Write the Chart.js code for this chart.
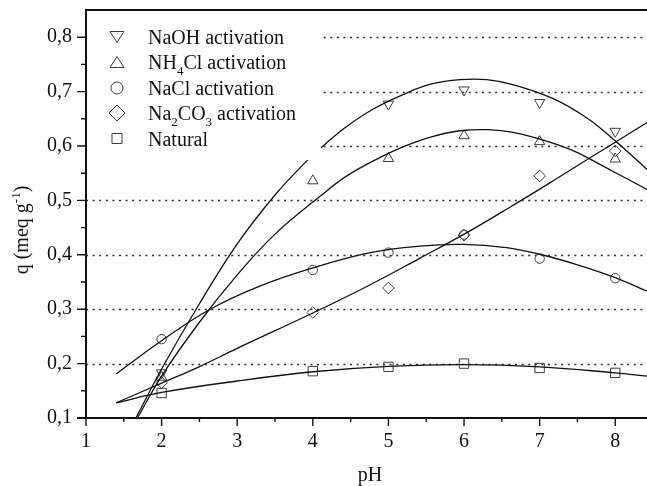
<!DOCTYPE html>
<html>
<head>
<meta charset="utf-8">
<script src="https://cdn.jsdelivr.net/npm/chart.js@4.4.1/dist/chart.umd.min.js"></script>
<style>
  html, body { margin: 0; padding: 0; background: #fff; }
  #wrap { width: 647px; height: 486px; position: relative; }
</style>
</head>
<body>
<div id="wrap"><canvas id="c" width="647" height="486"></canvas></div>
<script>
// ---- data ----
const pH = [2, 4, 5, 6, 7, 8];
const qNaOH   = [0.183, null, 0.677, 0.703, 0.680, 0.627]; // pH 4 point hidden by legend
const qNH4Cl  = [0.175, 0.536, 0.577, 0.619, 0.608, 0.576];
const qNaCl   = [0.245, 0.372, 0.404, 0.437, 0.393, 0.357];
const qNa2CO3 = [0.165, 0.294, 0.339, 0.436, 0.545, 0.591];
const qNatural= [0.146, 0.186, 0.194, 0.200, 0.192, 0.183];

// fitted curves, points
const fitNaOHx = [1.66, 2.0, 2.5, 3.0, 3.5, 3.93, 4.12, 4.43, 4.8, 5.2, 5.57, 5.95, 6.3, 6.67, 7.18, 7.62, 7.98, 8.42];
const fitNaOHy = [0.10, 0.19, 0.31, 0.42, 0.51, 0.574, 0.598, 0.634, 0.668, 0.695, 0.714, 0.722, 0.722, 0.712, 0.687, 0.652, 0.612, 0.557];
const fitNH4Clx = [1.68, 2.0, 2.5, 3.0, 3.5, 4.1, 4.45, 4.89, 5.2, 5.57, 5.95, 6.32, 6.65, 7.09, 7.45, 7.84, 8.42];
const fitNH4Cly = [0.10, 0.177, 0.276, 0.363, 0.438, 0.508, 0.545, 0.579, 0.599, 0.617, 0.628, 0.630, 0.625, 0.609, 0.591, 0.563, 0.520];
const fitNaClx = [1.40, 1.99, 2.63, 3.29, 4.0, 4.76, 5.42, 5.99, 6.56, 7.0, 7.49, 8.0, 8.42];
const fitNaCly = [0.181, 0.241, 0.299, 0.342, 0.376, 0.404, 0.416, 0.419, 0.413, 0.401, 0.382, 0.358, 0.333];
const fitNa2CO3x = [1.40, 2.0, 2.51, 3.0, 4.0, 4.76, 5.42, 5.99, 6.59, 7.18, 7.71, 8.42];
const fitNa2CO3y = [0.128, 0.164, 0.195, 0.228, 0.293, 0.345, 0.394, 0.437, 0.486, 0.536, 0.582, 0.643];
const fitNaturalx = [1.40, 2.0, 3.0, 4.0, 5.0, 6.0, 7.0, 8.0, 8.42];
const fitNaturaly = [0.128, 0.147, 0.168, 0.185, 0.195, 0.198, 0.194, 0.183, 0.177];

const xTicks = [1, 2, 3, 4, 5, 6, 7, 8];
const xMinorTicks = [1.5, 2.5, 3.5, 4.5, 5.5, 6.5, 7.5];
const yTicks = [0.1, 0.2, 0.3, 0.4, 0.5, 0.6, 0.7, 0.8];
const yMinorTicks = [0.15, 0.25, 0.35, 0.45, 0.55, 0.65, 0.75];
const yGrid = [0.2, 0.3, 0.4, 0.5, 0.6, 0.7, 0.8];

// legend entries: [text, 0 normal / 1 subscript]
const legendItems = [
  { marker: 'tridown', parts: [['NaOH activation', 0]] },
  { marker: 'triup',   parts: [['NH', 0], ['4', 1], ['Cl activation', 0]] },
  { marker: 'circle',  parts: [['NaCl activation', 0]] },
  { marker: 'diamond', parts: [['Na', 0], ['2', 1], ['CO', 0], ['3', 1], [' activation', 0]] },
  { marker: 'square',  parts: [['Natural', 0]] }
];
const xTitle = 'pH';
const yTitleParts = [['q (meq g', 0], ['-1', 2], [')', 0]];

// ---- build datasets ----
const SERIF = '"Liberation Serif", "Times New Roman", serif';
const LINE = '#111';
const MARK = '#3c3c3c';
function pts(xs, ys) { return xs.map((x, i) => ({ x: x, y: ys[i] })).filter(p => p.y !== null); }
function fitDs(xs, ys) {
  return { data: pts(xs, ys), showLine: true, borderColor: LINE, borderWidth: 1.3,
           pointRadius: 0, pointHoverRadius: 0, tension: 0.4, fill: false };
}
function markDs(ys, style, rot, r) {
  return { data: pts(pH, ys), showLine: false, pointStyle: style, rotation: rot,
           pointRadius: r, pointHoverRadius: r, borderColor: MARK, borderWidth: 1,
           backgroundColor: 'rgba(0,0,0,0)' };
}
const datasets = [
  fitDs(fitNaOHx, fitNaOHy), fitDs(fitNH4Clx, fitNH4Cly), fitDs(fitNaClx, fitNaCly),
  fitDs(fitNa2CO3x, fitNa2CO3y), fitDs(fitNaturalx, fitNaturaly),
  markDs(qNaOH, 'triangle', 180, 6), markDs(qNH4Cl, 'triangle', 0, 6),
  markDs(qNaCl, 'circle', 0, 4.7), markDs(qNa2CO3, 'rectRot', 0, 5.8),
  markDs(qNatural, 'rect', 0, 6.6)
];

function drawLegendMarker(ctx, kind, cx, cy) {
  ctx.beginPath();
  if (kind === 'tridown') { ctx.moveTo(cx - 7, cy - 5.5); ctx.lineTo(cx + 7, cy - 5.5); ctx.lineTo(cx, cy + 5.5); ctx.closePath(); }
  else if (kind === 'triup') { ctx.moveTo(cx - 7, cy + 5.5); ctx.lineTo(cx + 7, cy + 5.5); ctx.lineTo(cx, cy - 5.5); ctx.closePath(); }
  else if (kind === 'circle') { ctx.arc(cx, cy, 6, 0, Math.PI * 2); }
  else if (kind === 'diamond') { ctx.moveTo(cx - 8, cy); ctx.lineTo(cx, cy - 8); ctx.lineTo(cx + 8, cy); ctx.lineTo(cx, cy + 8); ctx.closePath(); }
  else if (kind === 'square') { ctx.rect(cx - 5, cy - 5, 10, 10); }
  ctx.stroke();
}
function drawParts(ctx, parts, x, y) {
  parts.forEach(p => {
    const kind = p[1];
    ctx.font = (kind ? '13px ' : '20px ') + SERIF;
    const dy = kind === 1 ? 6 : (kind === 2 ? -8 : 0);
    ctx.fillText(p[0], x, y + dy);
    x += ctx.measureText(p[0]).width;
  });
  return x;
}
function partsWidth(ctx, parts) {
  let w = 0;
  parts.forEach(p => { ctx.font = (p[1] ? '13px ' : '20px ') + SERIF; w += ctx.measureText(p[0]).width; });
  return w;
}

const decor = {
  id: 'decor',
  beforeDatasetsDraw(chart) {
    const { ctx, chartArea: a, scales: { y } } = chart;
    ctx.save();
    ctx.strokeStyle = '#2a2a2a';
    ctx.lineWidth = 1.3;
    ctx.setLineDash([2, 4.6]);
    yGrid.forEach(v => {
      const py = Math.round(y.getPixelForValue(v)) + 0.5;
      ctx.beginPath(); ctx.moveTo(a.left, py); ctx.lineTo(a.right, py); ctx.stroke();
    });
    ctx.restore();
  },
  afterDatasetsDraw(chart) {
    const { ctx, chartArea: a, scales: { x, y } } = chart;
    ctx.save();
    // legend panel
    ctx.fillStyle = '#fff';
    ctx.fillRect(a.left + 1, a.top + 1, 321 - a.left - 1, 160 - a.top - 1);
    ctx.strokeStyle = MARK; ctx.lineWidth = 1;
    ctx.fillStyle = '#111'; ctx.textBaseline = 'alphabetic'; ctx.textAlign = 'left';
    const rowsY = [37, 62, 88, 113, 138.5];
    legendItems.forEach((it, i) => {
      drawLegendMarker(ctx, it.marker, 117, rowsY[i]);
      drawParts(ctx, it.parts, 148, rowsY[i] + 7);
    });
    // axes
    ctx.strokeStyle = '#111';
    ctx.lineWidth = 2;
    ctx.beginPath();
    ctx.moveTo(a.left, a.top); ctx.lineTo(a.left, a.bottom);
    ctx.moveTo(a.left - 9, a.bottom); ctx.lineTo(a.right, a.bottom);
    ctx.moveTo(a.left - 1, a.top); ctx.lineTo(a.right, a.top);
    ctx.stroke();
    ctx.lineWidth = 1.4;
    ctx.beginPath();
    yTicks.forEach(v => { const py = y.getPixelForValue(v); ctx.moveTo(a.left - 9, py); ctx.lineTo(a.left, py); });
    yMinorTicks.forEach(v => { const py = y.getPixelForValue(v); ctx.moveTo(a.left - 5, py); ctx.lineTo(a.left, py); });
    xTicks.forEach(v => { const px = x.getPixelForValue(v); ctx.moveTo(px, a.bottom); ctx.lineTo(px, a.bottom + 8); });
    xMinorTicks.forEach(v => { const px = x.getPixelForValue(v); ctx.moveTo(px, a.bottom); ctx.lineTo(px, a.bottom + 4); });
    ctx.stroke();
    // axis titles
    ctx.fillStyle = '#111';
    ctx.font = '20px ' + SERIF;
    ctx.textAlign = 'center';
    ctx.fillText(xTitle, 370, 481);
    ctx.textAlign = 'left';
    ctx.translate(28, 230);
    ctx.rotate(-Math.PI / 2);
    const w = partsWidth(ctx, yTitleParts);
    drawParts(ctx, yTitleParts, -w / 2, 0);
    ctx.restore();
  }
};

new Chart(document.getElementById('c'), {
  type: 'scatter',
  data: { datasets: datasets },
  plugins: [decor],
  options: {
    responsive: false,
    animation: false,
    devicePixelRatio: 1,
    layout: { autoPadding: false, padding: { top: 10, left: 0, right: 0, bottom: 0 } },
    plugins: { legend: { display: false }, tooltip: { enabled: false } },
    scales: {
      x: {
        type: 'linear', min: 1, max: 8.42,
        afterBuildTicks: s => { s.ticks = xTicks.map(v => ({ value: v })); },
        afterFit: s => { s.height = 68; s.paddingLeft = 0; s.paddingRight = 0; },
        grid: { display: false, drawTicks: false },
        border: { display: false },
        ticks: { autoSkip: false, maxRotation: 0, padding: 12, color: '#111',
                 font: { family: SERIF, size: 20 }, callback: v => String(v) }
      },
      y: {
        type: 'linear', min: 0.1, max: 0.85,
        afterBuildTicks: s => { s.ticks = yTicks.map(v => ({ value: v })); },
        afterFit: s => { s.width = 86; s.paddingTop = 0; s.paddingBottom = 0; },
        grid: { display: false, drawTicks: false },
        border: { display: false },
        ticks: { autoSkip: false, padding: 14, color: '#111',
                 font: { family: SERIF, size: 20 }, callback: v => v.toFixed(1).replace('.', ',') }
      }
    }
  }
});
</script>
</body>
</html>
